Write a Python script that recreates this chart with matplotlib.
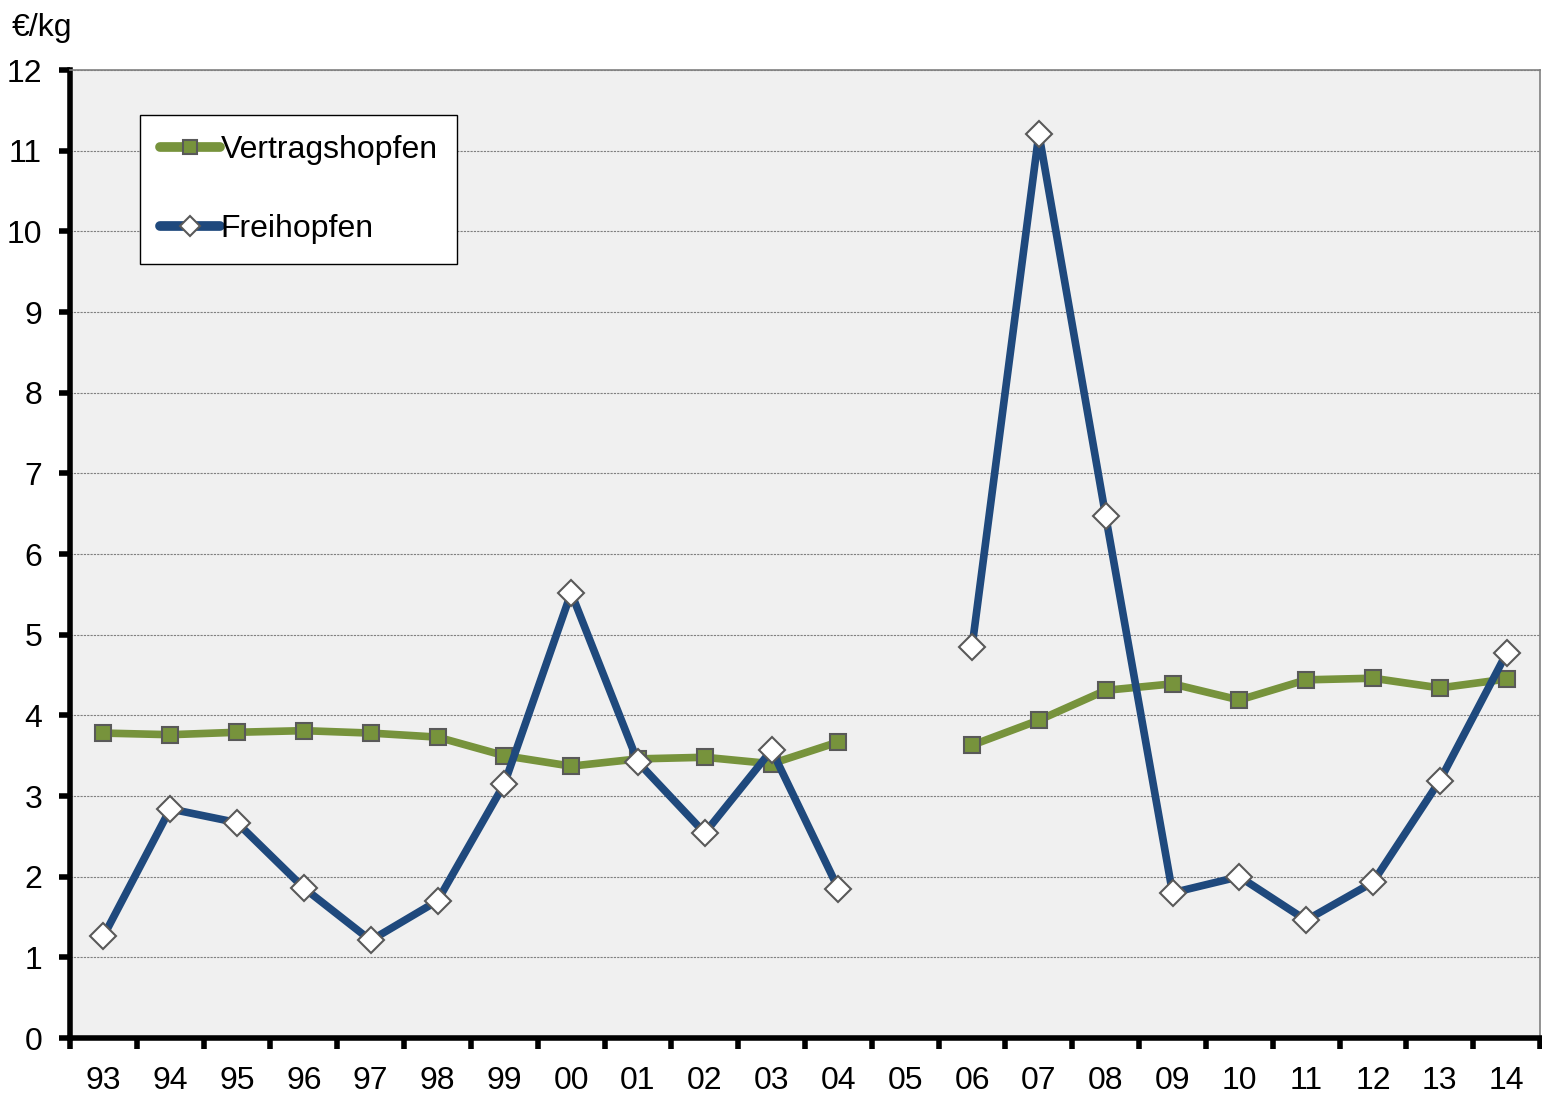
import numpy as np
import matplotlib.pyplot as plt

plt.rcParams['font.family'] = ['Liberation Sans', 'DejaVu Sans']

# Jahre und Preise (€/kg)
jahre = ['93', '94', '95', '96', '97', '98', '99', '00', '01', '02', '03',
         '04', '05', '06', '07', '08', '09', '10', '11', '12', '13', '14']
vertrag = [3.78, 3.76, 3.79, 3.81, 3.78, 3.73, 3.50, 3.37, 3.46, 3.48, 3.40,
           3.67, np.nan, 3.63, 3.94, 4.31, 4.39, 4.19, 4.44, 4.46, 4.34, 4.45]
frei = [1.26, 2.84, 2.67, 1.86, 1.21, 1.70, 3.15, 5.52, 3.42, 2.54, 3.57,
        1.85, np.nan, 4.85, 11.21, 6.47, 1.80, 2.00, 1.46, 1.93, 3.19, 4.77]

x = np.arange(len(jahre))
fs = 23

fig = plt.figure(figsize=(15.42, 10.93), dpi=100)
ax = fig.add_axes([70 / 1542, 55 / 1093, 1470 / 1542, 968 / 1093])
ax.set_facecolor('#F0F0F0')

ax.plot(x, vertrag, color='#77933C', lw=5.5, marker='s', ms=12,
        mfc='#77933C', mec='#595959', mew=1.5, label='Vertragshopfen', zorder=3)
ax.plot(x, frei, color='#1F497D', lw=5.5, marker='D', ms=13,
        mfc='white', mec='#595959', mew=1.5, label='Freihopfen', zorder=4)

ax.set_xlim(-0.5, len(jahre) - 0.5)
ax.set_ylim(0, 12)
ax.set_yticks(range(0, 13))
ax.set_xticks(x)
ax.set_xticklabels(jahre)
ax.set_xticks(np.arange(-0.5, len(jahre)), minor=True)
ax.tick_params(axis='x', which='major', length=0, pad=20, labelsize=fs)
ax.tick_params(axis='x', which='minor', length=8, width=4, direction='out')
ax.tick_params(axis='y', length=8, width=4, direction='out', pad=12, labelsize=fs)

ax.grid(axis='y', color='#808080', ls=(0, (2, 1)), lw=0.8)
ax.set_axisbelow(True)

for s in ['left', 'bottom']:
    ax.spines[s].set_linewidth(4)
    ax.spines[s].set_color('black')
for s in ['top', 'right']:
    ax.spines[s].set_linewidth(1.2)
    ax.spines[s].set_color('#808080')

leg = ax.legend(loc='upper left', bbox_to_anchor=(70 / 1470, 1 - 45 / 968),
                fontsize=fs, frameon=True, fancybox=False, framealpha=1,
                edgecolor='black', handlelength=1.9, handletextpad=0.0,
                labelspacing=1.55, borderpad=0.62, borderaxespad=0)
leg.get_frame().set_linewidth(1)
for h in leg.legend_handles:
    h.set_linewidth(7)
    h.set_markersize(10)
    h.set_solid_capstyle('round')

fig.text(12 / 1542, 1 - 36 / 1093, '€/kg', fontsize=fs)

plt.savefig('out.png', dpi=100)
